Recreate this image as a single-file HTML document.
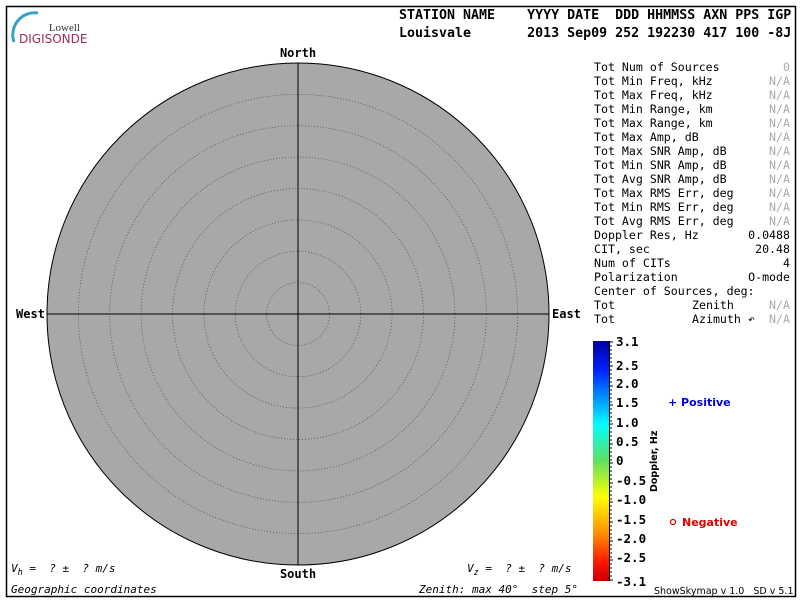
<!DOCTYPE html>
<html><head><meta charset="utf-8"><style>
html,body{margin:0;padding:0;background:#fff;}
svg{display:block;}
text{font-family:"DejaVu Sans Mono","Liberation Mono",monospace;}
.s{font-family:"DejaVu Sans","Liberation Sans",sans-serif;}
</style></head><body>
<svg width="800" height="600" viewBox="0 0 800 600" xmlns="http://www.w3.org/2000/svg">
<rect x="0" y="0" width="800" height="600" fill="#fff"/>
<rect x="6.5" y="6.5" width="789" height="590" fill="none" stroke="#000" stroke-width="1.5"/>
<path d="M14,42 A22,22 0 0 1 38,13" fill="none" stroke="#3aa0c8" stroke-width="3"/>
<text x="80" y="31" text-anchor="end" font-size="11" fill="#333" style="font-family:'Liberation Serif',serif">Lowell</text>
<text x="19" y="43" font-size="12" fill="#a02a5e" class="s">DIGISONDE</text>
<text x="399" y="19" font-size="13.3" font-weight="bold" xml:space="preserve">STATION NAME    YYYY DATE  DDD HHMMSS AXN PPS IGP</text>
<text x="399" y="37" font-size="13.3" font-weight="bold" xml:space="preserve">Louisvale       2013 Sep09 252 192230 417 100 -8J</text>
<circle cx="298" cy="314" r="251" fill="#a8a8a8" stroke="#000" stroke-width="1"/>
<g fill="none" stroke="#555" stroke-width="0.8" stroke-dasharray="1,2">
<circle cx="298" cy="314" r="31.4"/><circle cx="298" cy="314" r="62.8"/><circle cx="298" cy="314" r="94.1"/>
<circle cx="298" cy="314" r="125.5"/><circle cx="298" cy="314" r="156.9"/><circle cx="298" cy="314" r="188.3"/>
<circle cx="298" cy="314" r="219.6"/>
</g>
<line x1="298" y1="63" x2="298" y2="565" stroke="#000"/>
<line x1="47" y1="314" x2="549" y2="314" stroke="#000"/>
<g font-size="12" font-weight="bold" style="font-family:'DejaVu Sans',sans-serif">
<text x="298" y="57" text-anchor="middle">North</text>
<text x="298" y="578" text-anchor="middle">South</text>
<text x="16" y="318">West</text>
<text x="552" y="318">East</text>
</g>
<g font-size="11" font-style="italic">
<text x="11" y="572" xml:space="preserve">V<tspan font-size="8.5" dy="3">h</tspan><tspan dy="-3"> =  ? ±  ? m/s</tspan></text>
<text x="467" y="572" xml:space="preserve">V<tspan font-size="8.5" dy="3">z</tspan><tspan dy="-3"> =  ? ±  ? m/s</tspan></text>
<text x="11" y="593">Geographic coordinates</text>
<text x="419" y="593" xml:space="preserve">Zenith: max 40°  step 5°</text>
</g>
<g font-size="11.6" xml:space="preserve">
<text x="594" y="71">Tot Num of Sources</text><text x="790" y="71" text-anchor="end" fill="#aaa">0</text>
<text x="594" y="85">Tot Min Freq, kHz</text><text x="790" y="85" text-anchor="end" fill="#aaa">N/A</text>
<text x="594" y="99">Tot Max Freq, kHz</text><text x="790" y="99" text-anchor="end" fill="#aaa">N/A</text>
<text x="594" y="113">Tot Min Range, km</text><text x="790" y="113" text-anchor="end" fill="#aaa">N/A</text>
<text x="594" y="127">Tot Max Range, km</text><text x="790" y="127" text-anchor="end" fill="#aaa">N/A</text>
<text x="594" y="141">Tot Max Amp, dB</text><text x="790" y="141" text-anchor="end" fill="#aaa">N/A</text>
<text x="594" y="155">Tot Max SNR Amp, dB</text><text x="790" y="155" text-anchor="end" fill="#aaa">N/A</text>
<text x="594" y="169">Tot Min SNR Amp, dB</text><text x="790" y="169" text-anchor="end" fill="#aaa">N/A</text>
<text x="594" y="183">Tot Avg SNR Amp, dB</text><text x="790" y="183" text-anchor="end" fill="#aaa">N/A</text>
<text x="594" y="197">Tot Max RMS Err, deg</text><text x="790" y="197" text-anchor="end" fill="#aaa">N/A</text>
<text x="594" y="211">Tot Min RMS Err, deg</text><text x="790" y="211" text-anchor="end" fill="#aaa">N/A</text>
<text x="594" y="225">Tot Avg RMS Err, deg</text><text x="790" y="225" text-anchor="end" fill="#aaa">N/A</text>
<text x="594" y="239">Doppler Res, Hz</text><text x="790" y="239" text-anchor="end">0.0488</text>
<text x="594" y="253">CIT, sec</text><text x="790" y="253" text-anchor="end">20.48</text>
<text x="594" y="267">Num of CITs</text><text x="790" y="267" text-anchor="end">4</text>
<text x="594" y="281">Polarization</text><text x="790" y="281" text-anchor="end">O-mode</text>
<text x="594" y="295">Center of Sources, deg:</text>
<text x="594" y="323">Tot</text><text x="594" y="309">Tot</text>
<text x="692" y="309">Zenith</text><text x="692" y="323">Azimuth ↶</text>
<text x="790" y="309" text-anchor="end" fill="#aaa">N/A</text><text x="790" y="323" text-anchor="end" fill="#aaa">N/A</text>
</g>
<defs><linearGradient id="cb" x1="0" y1="0" x2="0" y2="1">
<stop offset="0" stop-color="#0000a0"/><stop offset="0.12" stop-color="#0020ff"/>
<stop offset="0.35" stop-color="#00ffff"/><stop offset="0.5" stop-color="#60e060"/>
<stop offset="0.65" stop-color="#ffff00"/><stop offset="0.8" stop-color="#ff9000"/>
<stop offset="0.93" stop-color="#ff1000"/><stop offset="1" stop-color="#c00000"/>
</linearGradient></defs>
<rect x="593" y="341" width="16" height="240" fill="url(#cb)"/>
<line x1="609.5" y1="341" x2="609.5" y2="581" stroke="#000"/>
<g stroke="#000" stroke-width="1">
<path d="M609,342h4M609,346h3M609,350h3M609,354h3M609,358h3M609,362h3M609,366h4M609,370h3M609,374h3M609,378h3M609,382h3M609,386h4M609,390h3M609,394h3M609,398h3M609,402h3M609,405h4M609,409h3M609,413h3M609,417h3M609,421h3M609,424h4M609,428h3M609,432h3M609,436h3M609,440h3M609,444h4M609,448h3M609,452h3M609,456h3M609,460h3M609,463h4M609,467h3M609,471h3M609,475h3M609,479h3M609,483h4M609,487h3M609,491h3M609,495h3M609,499h3M609,502h4M609,506h3M609,510h3M609,514h3M609,518h3M609,522h4M609,526h3M609,530h3M609,534h3M609,538h3M609,541h4M609,545h3M609,549h3M609,553h3M609,557h3M609,560h4M609,564h3M609,568h3M609,572h3M609,576h3M609,580h4"/>
</g>
<g font-size="12.5" font-weight="bold" style="font-family:'DejaVu Sans',sans-serif">
<text x="616" y="346">3.1</text><text x="616" y="370">2.5</text><text x="616" y="388">2.0</text>
<text x="616" y="407">1.5</text><text x="616" y="427">1.0</text><text x="616" y="446">0.5</text>
<text x="616" y="465">0</text><text x="616" y="485">-0.5</text><text x="616" y="504">-1.0</text>
<text x="616" y="524">-1.5</text><text x="616" y="543">-2.0</text><text x="616" y="562">-2.5</text>
<text x="616" y="586">-3.1</text>
</g>
<text transform="translate(657,492) rotate(-90)" font-size="9.5" font-weight="bold" style="font-family:'DejaVu Sans',sans-serif">Doppler, Hz</text>
<text x="668" y="406" font-size="11" font-weight="bold" fill="#0000e0" style="font-family:'DejaVu Sans',sans-serif">+ Positive</text>
<circle cx="673" cy="522" r="2.5" fill="none" stroke="#e00000" stroke-width="1.2"/>
<text x="682" y="526" font-size="11" font-weight="bold" fill="#e00000" style="font-family:'DejaVu Sans',sans-serif">Negative</text>
<text x="654" y="594" font-size="9.5" style="font-family:'DejaVu Sans',sans-serif" xml:space="preserve">ShowSkymap v 1.0   SD v 5.1</text>
</svg>
</body></html>
